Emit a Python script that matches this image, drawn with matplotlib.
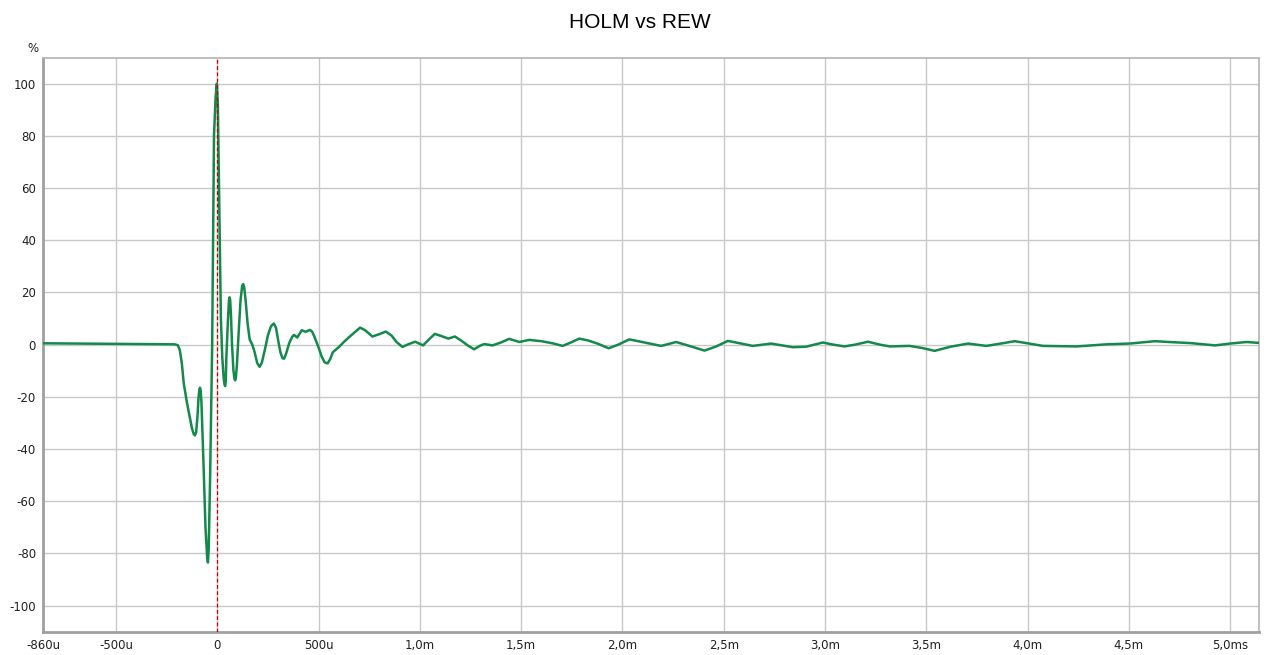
import numpy as np
import matplotlib.pyplot as plt

plt.rcParams['font.family'] = ['DejaVu Sans']

# impulse response, time in microseconds, amplitude in %
t_us = [-860, -700, -500, -300, -210, -195, -185, -175, -165, -150, -140, -125,
        -116, -110, -104, -98, -92, -88, -85, -82, -78, -68, -58, -50, -46, -42, -35, -25, -16, -8,
        -2, 3, 10, 18, 25, 32, 36, 39, 42, 45, 52, 58, 61, 64, 68, 73, 80, 86, 89, 92, 97, 106, 115,
        123, 128, 133, 140, 150, 160, 173, 185, 197, 209, 220, 235, 250, 265,
        279, 290, 300, 312, 322, 330, 340, 355, 370, 379, 387, 395, 405, 417,
        427, 437, 447, 458, 468, 480, 492, 502, 515, 530, 545, 558, 570, 581,
        600, 625, 650, 675, 705, 730, 766, 800, 832, 860, 885, 914, 945, 977,
        1016, 1045, 1074, 1105, 1141, 1173, 1205, 1240, 1268, 1295, 1318, 1359,
        1400, 1441, 1491, 1540, 1600, 1655, 1705, 1745, 1787, 1830, 1880, 1932,
        1980, 2034, 2110, 2191, 2265, 2330, 2405, 2460, 2520, 2580, 2643, 2734,
        2841, 2907, 2989, 3040, 3096, 3150, 3212, 3270, 3320, 3417, 3480, 3541,
        3620, 3706, 3796, 3860, 3936, 4000, 4076, 4241, 4389, 4504, 4628, 4720,
        4801, 4925, 5000, 5081, 5131, 5142]
amp_pct = [0.5, 0.4, 0.3, 0.15, 0.1, -0.2, -2, -7, -15, -22, -26, -32,
           -34.3, -34.8, -33.5, -28, -20, -17.2, -16.5, -17.5, -22, -45, -70, -81, -83.5, -78, -50, 0, 80, 95,
           100, 92, 55, 10, -5, -13, -15.3, -15.9, -14, -5, 8, 17, 18.1, 17, 11, 0, -10, -13.4, -13.7, -12.5, -8, 5, 17,
           22.5, 23.2, 22, 17, 8, 2, 0, -3, -7, -8.5, -7, -2, 3.5, 7,
           8.1, 6.5, 2, -3, -5.2, -5.4, -3.5, 0.5, 3, 3.7, 3.2, 2.7, 4, 5.5,
           5.2, 4.9, 5.3, 5.6, 5, 3, 0.5, -1.5, -4.5, -6.8, -7.2, -5.5, -3, -2.2,
           -1, 1, 2.8, 4.5, 6.5, 5.5, 3.1, 4.0, 5.0, 3.5, 1, -0.9, 0.2, 1.1,
           -0.3, 2, 4.1, 3.3, 2.3, 3.1, 1.5, -0.5, -1.8, -0.5, 0.2, -0.3,
           0.8, 2.2, 1.0, 1.8, 1.3, 0.5, -0.5, 0.8, 2.3, 1.6, 0.3, -1.4,
           0.0, 2.0, 0.8, -0.5, 1.0, -0.5, -2.3, -0.8, 1.4, 0.5, -0.5, 0.4,
           -1.0, -0.8, 0.8, 0.0, -0.7, 0.0, 1.1, 0.0, -0.7, -0.5, -1.3, -2.4,
           -0.8, 0.4, -0.5, 0.3, 1.3, 0.5, -0.5, -0.7, 0.1, 0.4, 1.3, 0.9,
           0.6, -0.3, 0.4, 1.0, 0.7, 0.7]

x_ticks = [-860, -500, 0, 500, 1000, 1500, 2000, 2500, 3000, 3500, 4000, 4500, 5000]
x_labels = ['-860u', '-500u', '0', '500u', '1,0m', '1,5m', '2,0m', '2,5m',
            '3,0m', '3,5m', '4,0m', '4,5m', '5,0ms']
y_ticks = [-100, -80, -60, -40, -20, 0, 20, 40, 60, 80, 100]

fig = plt.figure(figsize=(12.8, 6.55), dpi=100)
ax = fig.add_axes([43 / 1280, 1 - 631.7 / 655, (1259 - 43) / 1280, (631.7 - 57.5) / 655])

ax.plot(t_us, amp_pct, color='#13894b', lw=1.8, solid_joinstyle='round', zorder=3)
ax.axvline(0, color='#c00000', lw=0.9, ls=(0, (3, 2)), zorder=4)

ax.set_xlim(-860, 5142)
ax.set_ylim(-110, 110)
ax.set_xticks(x_ticks)
ax.set_xticklabels(x_labels)
ax.set_yticks(y_ticks)
ax.set_yticklabels([str(v) for v in y_ticks])
ax.tick_params(length=0, labelsize=8.5, colors='#202020', pad=5)
ax.grid(True, color='#c8c8c8', lw=1)
ax.set_axisbelow(True)

for side in ['top', 'right']:
    ax.spines[side].set_color('#b4b4b4')
    ax.spines[side].set_linewidth(1.2)
for side in ['left', 'bottom']:
    ax.spines[side].set_color('#a0a0a0')
    ax.spines[side].set_linewidth(2)

fig.text(33 / 1280, 1 - 48 / 655, '%', ha='center', va='center', fontsize=8.5, color='#202020')
fig.text(0.5, 1 - 22 / 655, 'HOLM vs REW', ha='center', va='center',
         fontsize=15, family='Liberation Sans')

fig.savefig('out.png', dpi=100, facecolor='white')
